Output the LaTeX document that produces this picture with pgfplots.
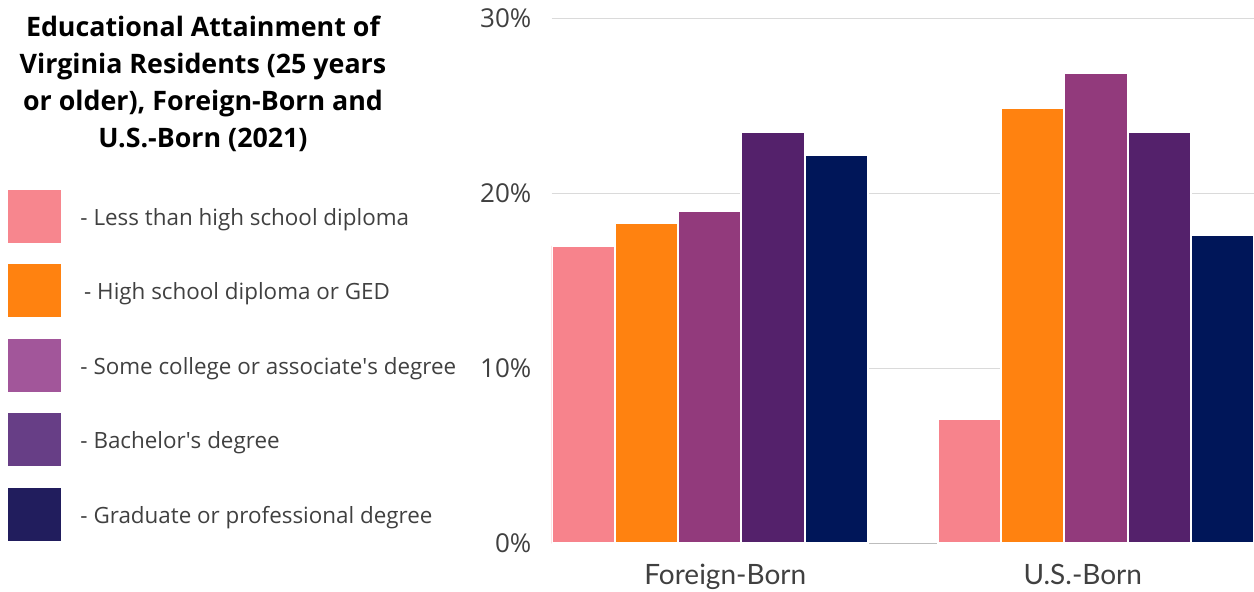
\documentclass[border=0pt]{standalone}
\usepackage{pgfplots}
\pgfplotsset{compat=1.18}
\usepackage{fontspec}
\setmainfont{Open Sans}
\newfontfamily\latofont{Lato}
\definecolor{cPink}{HTML}{F7838C}
\definecolor{cOrange}{HTML}{FF8210}
\definecolor{cPurple}{HTML}{923A7C}
\definecolor{cDPurple}{HTML}{54216B}
\definecolor{cNavy}{HTML}{001659}
\definecolor{lPink}{HTML}{F7868E}
\definecolor{lOrange}{HTML}{FF8210}
\definecolor{lPurple}{HTML}{A2569A}
\definecolor{lDPurple}{HTML}{673E86}
\definecolor{lNavy}{HTML}{211D5D}
\definecolor{cGrid}{HTML}{DADADA}
\definecolor{cAxis}{HTML}{BDBDBD}
\definecolor{cText}{HTML}{404040}
\begin{document}
\begin{tikzpicture}
\useasboundingbox (0,0) rectangle (627pt,296pt);
\node[anchor=north, align=center, inner sep=0pt, font=\fontsize{13.4}{18.5}\selectfont\bfseries] at (101.5pt,288pt)
  {Educational Attainment of\\Virginia Residents (25 years\\or older), Foreign-Born and\\U.S.-Born (2021)};
\begin{axis}[
  at={(275.85pt,24.35pt)}, anchor=south west,
  scale only axis, width=351.15pt, height=262.5pt,
  xmin=-0.4095, xmax=1.4095, ymin=0, ymax=30,
  ybar, bar width=0.1638,
  xtick={0.04,0.966}, xticklabels={Foreign-Born,U.S.-Born},
  ytick={0,10,20,30}, yticklabels={0\%,10\%,20\%,30\%},
  major tick length=0pt,
  ymajorgrids, grid style={line width=0.5pt, color=cGrid},
  axis x line*=bottom, axis y line*=left,
  x axis line style={draw=cAxis, line width=0.6pt, -},
  y axis line style={draw=none, -},
  xticklabel style={anchor=base, yshift=-20.85pt, font=\latofont\fontsize{14}{16}\selectfont, text=cText},
  yticklabel style={anchor=east, inner sep=0pt, xshift=-10pt, font=\fontsize{13}{15}\selectfont, text=cText},
  legend style={at={(axis description cs:0,0)}, anchor=south west, xshift=-272.2pt, yshift=1.15pt,
    draw=none, fill=none, inner sep=0pt, row sep=10.85pt, column sep=10pt,
    font=\fontsize{11.2}{13}\selectfont, text=cText, nodes={inner sep=0pt}},
  legend cell align=left,
]
\addlegendimage{legend image code/.code={\fill[lPink] (0pt,-11.9pt) rectangle (26pt,14.1pt);}}
\addlegendentry{- Less than high school diploma}
\addlegendimage{legend image code/.code={\fill[lOrange] (0pt,-11.9pt) rectangle (26pt,14.1pt);}}
\addlegendentry{\,- High school diploma or GED}
\addlegendimage{legend image code/.code={\fill[lPurple] (0pt,-11.9pt) rectangle (26pt,14.1pt);}}
\addlegendentry{- Some college or associate\textquotesingle s degree}
\addlegendimage{legend image code/.code={\fill[lDPurple] (0pt,-11.9pt) rectangle (26pt,14.1pt);}}
\addlegendentry{- Bachelor\textquotesingle s degree}
\addlegendimage{legend image code/.code={\fill[lNavy] (0pt,-11.9pt) rectangle (26pt,14.1pt);}}
\addlegendentry{- Graduate or professional degree}

\addplot[fill=cPink, draw=white, line width=1pt, bar shift=-0.3276, forget plot] coordinates {(0,17.0) (1,7.1)};
\addplot[fill=cOrange, draw=white, line width=1pt, bar shift=-0.1638, forget plot] coordinates {(0,18.3) (1,24.9)};
\addplot[fill=cPurple, draw=white, line width=1pt, bar shift=0, forget plot] coordinates {(0,19.0) (1,26.9)};
\addplot[fill=cDPurple, draw=white, line width=1pt, bar shift=0.1638, forget plot] coordinates {(0,23.5) (1,23.5)};
\addplot[fill=cNavy, draw=white, line width=1pt, bar shift=0.3276, forget plot] coordinates {(0,22.2) (1,17.6)};
\end{axis}
\end{tikzpicture}
\end{document}
